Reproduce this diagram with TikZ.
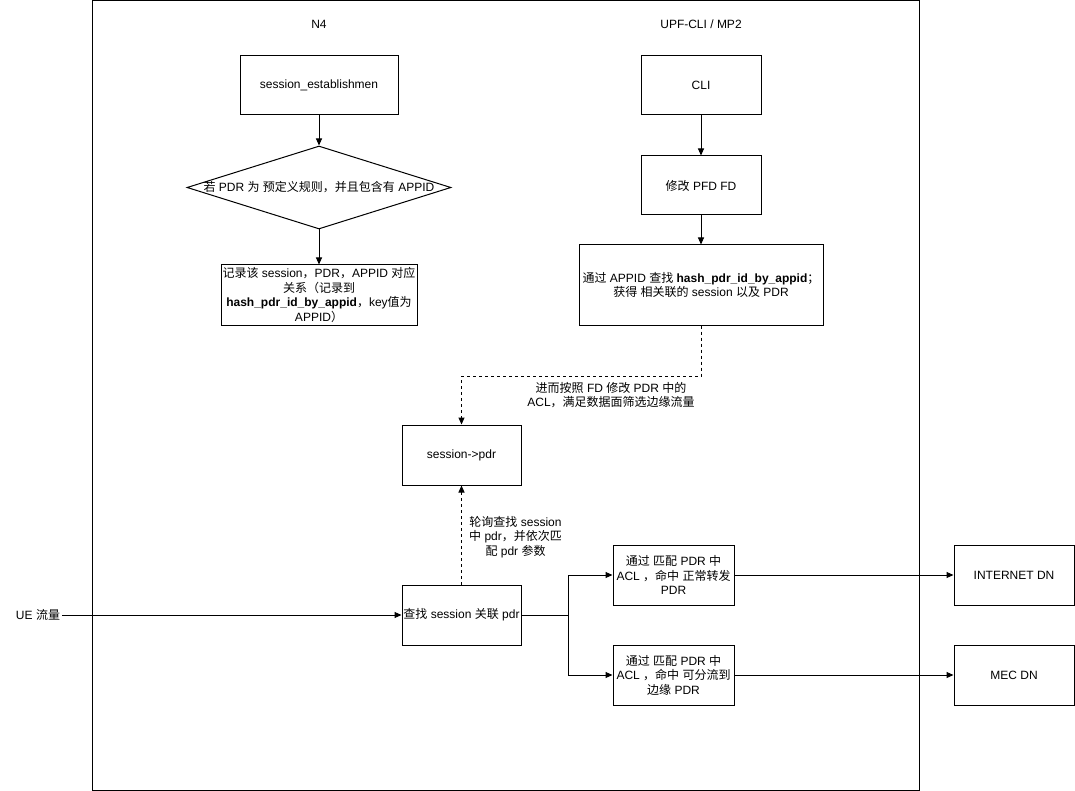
\documentclass[tikz,border=0pt]{standalone}
\usepackage{fontspec}
\setmainfont{Liberation Sans}
\newfontfamily\cjkf{Noto Sans CJK SC}
\newfontfamily\latf{Liberation Sans}
\usetikzlibrary{arrows.meta,shapes.geometric}
\newXeTeXintercharclass\CJKcls
\newcount\mycnt
\def\setcjkrange#1#2{\mycnt=#1\relax
  \loop\XeTeXcharclass\mycnt=\CJKcls\relax\ifnum\mycnt<#2\relax\advance\mycnt by 1\relax\repeat}
\setcjkrange{"4E00}{"9FFF}
\setcjkrange{"3000}{"303F}
\setcjkrange{"FF00}{"FFEF}
\XeTeXinterchartoks 0 \CJKcls = {\cjkf}
\XeTeXinterchartoks 4095 \CJKcls = {\cjkf}
\XeTeXinterchartoks \CJKcls 0 = {\latf}
\XeTeXinterchartoks \CJKcls 4095 = {\latf}
\XeTeXinterchartokenstate=1
\begin{document}
\begin{tikzpicture}[x=1pt,y=-1pt,
  every node/.style={font=\fontsize{12}{14.5}\selectfont, text=black},
  box/.style={draw=black, line width=1pt, align=center, inner sep=1pt},
  lbl/.style={align=center, inner sep=1pt},
  arr/.style={-{Triangle[length=7pt,width=6pt]}, line width=1pt},
  darr/.style={-{Triangle[length=7pt,width=6pt]}, line width=1pt, dash pattern=on 3pt off 3pt}]
\useasboundingbox (0,0) rectangle (1075,791);
% frame
\node[draw=black, line width=1pt, minimum width=827pt, minimum height=789.5pt, inner sep=0] (frame) at (505.5,395.25) {};
% headers
\node[lbl] (n4) at (319,24) {N4};
\node[lbl] (upf) at (701,24) {UPF-CLI / MP2};
% left column
\node[box, minimum width=158pt, minimum height=59pt] (se) at (319,85.5) {session\_establishmen};
\node[draw=black, line width=1pt, diamond, minimum width=264pt, minimum height=83pt, inner sep=0] (dia) at (319,187.5) {};
\node[lbl] (diat) at (319,187.5) {若 PDR 为 预定义规则，并且包含有 APPID};
\node[box, minimum width=196pt, minimum height=60pt] (rec) at (319,295) {记录该 session，PDR，APPID 对应\\关系（记录到\\\textbf{hash\_pdr\_id\_by\_appid}，key值为\\APPID）};
% right column
\node[box, minimum width=120pt, minimum height=59pt] (cli) at (701,85.5) {CLI};
\node[box, minimum width=120pt, minimum height=59pt] (pfd) at (701,185.5) {修改 PFD FD};
\node[box, minimum width=244pt, minimum height=80pt] (appid) at (701,285) {通过 APPID 查找 \textbf{hash\_pdr\_id\_by\_appid}；\\获得 相关联的 session 以及 PDR};
% middle
\node[box, minimum width=119pt, minimum height=60pt] (sp) at (461.5,455) {session->pdr};
\node[box, minimum width=119pt, minimum height=60pt] (find) at (461.5,615) {查找 session 关联 pdr};
\node[box, minimum width=121pt, minimum height=60pt] (m1) at (673.5,575) {通过 匹配 PDR 中\\ACL ，命中 正常转发\\PDR};
\node[box, minimum width=121pt, minimum height=60pt] (m2) at (673.5,675) {通过 匹配 PDR 中\\ACL ，命中 可分流到\\边缘 PDR};
\node[box, minimum width=120pt, minimum height=60pt] (inet) at (1014,575) {INTERNET DN};
\node[box, minimum width=120pt, minimum height=60pt] (mec) at (1014,675) {MEC DN};
\node[lbl, inner sep=2pt] (ue) at (38,615) {UE 流量};
% labels
\node[lbl] (l1) at (611,395) {进而按照 FD 修改 PDR 中的\\ACL，满足数据面筛选边缘流量};
\node[lbl] (l2) at (515.5,537) {轮询查找 session\\中 pdr，并依次匹\\配 pdr 参数};
% connectors
\draw[arr] (se.south) -- (dia.north);
\draw[arr] (dia.south) -- (rec.north);
\draw[arr] (cli.south) -- (pfd.north);
\draw[arr] (pfd.south) -- (appid.north);
\coordinate (bend1) at (701,376);
\draw[darr] (appid.south) -- (bend1) -| (sp.north);
\draw[darr] (find.north) -- (sp.south);
\draw[arr] (ue.east) -- (find.west);
\coordinate (split) at (568,615);
\draw[arr] (find.east) -- (split) |- (m1.west);
\draw[arr] (split) |- (m2.west);
\draw[arr] (m1.east) -- (inet.west);
\draw[arr] (m2.east) -- (mec.west);
\end{tikzpicture}
\end{document}
